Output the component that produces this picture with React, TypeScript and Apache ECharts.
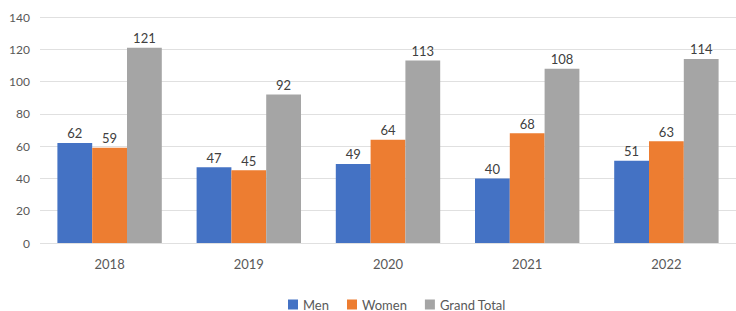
import React, { useEffect, useRef } from "react";
import * as echarts from "echarts";

const categories = ["2018", "2019", "2020", "2021", "2022"];
const men = [62, 47, 49, 40, 51];
const women = [59, 45, 64, 68, 63];
const grandTotal = [121, 92, 113, 108, 114];
const yTicks = { min: 0, max: 140, interval: 20 };

const FONT = "Lato, 'Noto Sans', sans-serif";

export default function App() {
  const ref = useRef<HTMLDivElement>(null);
  useEffect(() => {
    document.body.style.margin = "0";
    const chart = echarts.init(ref.current!, null, { renderer: "svg" });
    const label = {
      show: true,
      position: "top",
      color: "#404040",
      fontSize: 13,
      fontFamily: FONT,
      distance: 3,
    };
    chart.setOption({
      animation: false,
      textStyle: { fontFamily: FONT },
      grid: { left: 40, top: 17, width: 704, height: 226, containLabel: false },
      legend: {
        left: 283,
        top: 292,
        itemWidth: 10,
        itemHeight: 10,
        itemGap: 18,
        itemStyle: { borderWidth: 0 },
        icon: "rect",
        textStyle: { color: "#595959", fontSize: 13, fontFamily: FONT, lineHeight: 15 },
        data: ["Men", "Women", "Grand Total"],
      },
      xAxis: {
        type: "category",
        data: categories,
        axisLine: { show: false },
        axisTick: { show: false },
        axisLabel: { color: "#595959", fontSize: 13, margin: 14, fontFamily: FONT },
      },
      yAxis: {
        type: "value",
        min: yTicks.min,
        max: yTicks.max,
        interval: yTicks.interval,
        axisLabel: { color: "#595959", fontSize: 12, margin: 10, fontFamily: FONT },
        splitLine: { lineStyle: { color: "#e0e0e0" } },
      },
      series: [
        { name: "Men", type: "bar", data: men, itemStyle: { color: "#4472C4" }, barGap: "0%", barCategoryGap: "25%", label },
        { name: "Women", type: "bar", data: women, itemStyle: { color: "#ED7D31" }, label },
        { name: "Grand Total", type: "bar", data: grandTotal, itemStyle: { color: "#A5A5A5" }, label },
      ],
    });
    return () => chart.dispose();
  }, []);
  return <div ref={ref} style={{ width: 736, height: 311 }} />;
}
